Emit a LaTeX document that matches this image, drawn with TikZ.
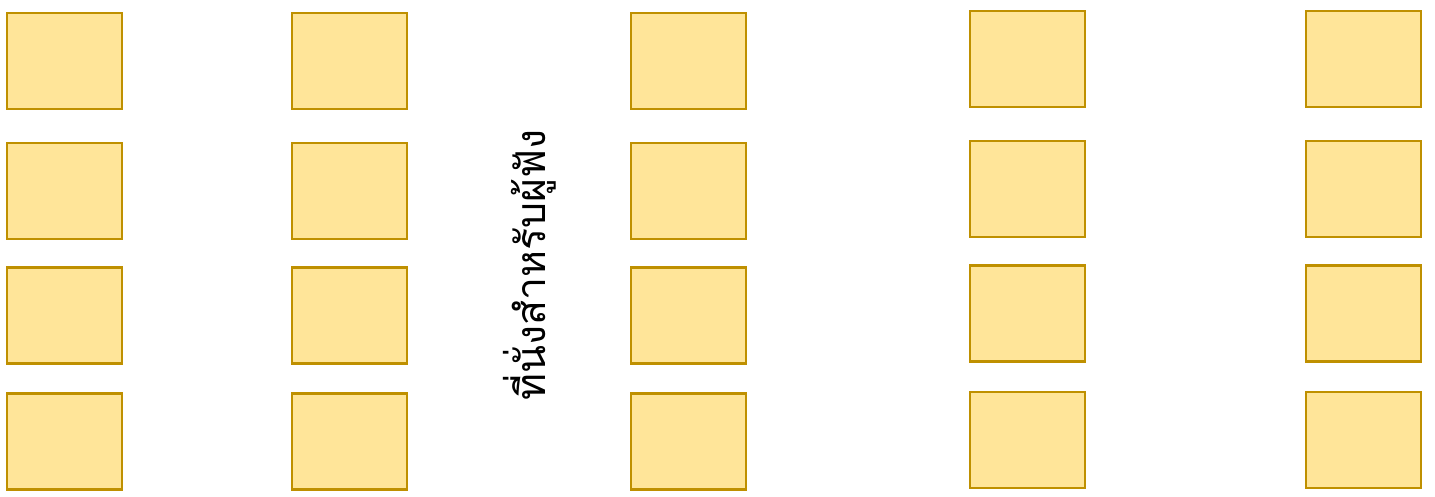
\documentclass[tikz,border=0pt]{standalone}
\usepackage{fontspec}
\newfontfamily\thaifont[Script=Thai]{Loma}
\definecolor{seatfill}{HTML}{FFE599}
\definecolor{seatdraw}{HTML}{BF9000}
\begin{document}
\begin{tikzpicture}[x=1pt,y=-1pt,
  seat/.style={draw=seatdraw,fill=seatfill,line width=2.4pt,minimum width=115pt,minimum height=96pt,inner sep=0pt,outer sep=0pt}]
\useasboundingbox (0,0) rectangle (1435,497);
% columns 1-3
\foreach \c/\x in {a/64.5,b/349.5,c/688.5}{
  \foreach \r/\y in {1/61,2/191,3/315.5,4/441.5}{
    \node[seat] (\c\r) at (\x,\y) {};
  }
}
% columns 4-5
\foreach \c/\x in {d/1027.5,e/1363.5}{
  \foreach \r/\y in {1/59,2/189,3/313.5,4/440}{
    \node[seat] (\c\r) at (\x,\y) {};
  }
}
\node[rotate=90,font=\thaifont\fontsize{41}{48}\selectfont,inner sep=0pt] (label) at (530,265) {ที่นั่งสำหรับผู้ฟัง};
\end{tikzpicture}
\end{document}
